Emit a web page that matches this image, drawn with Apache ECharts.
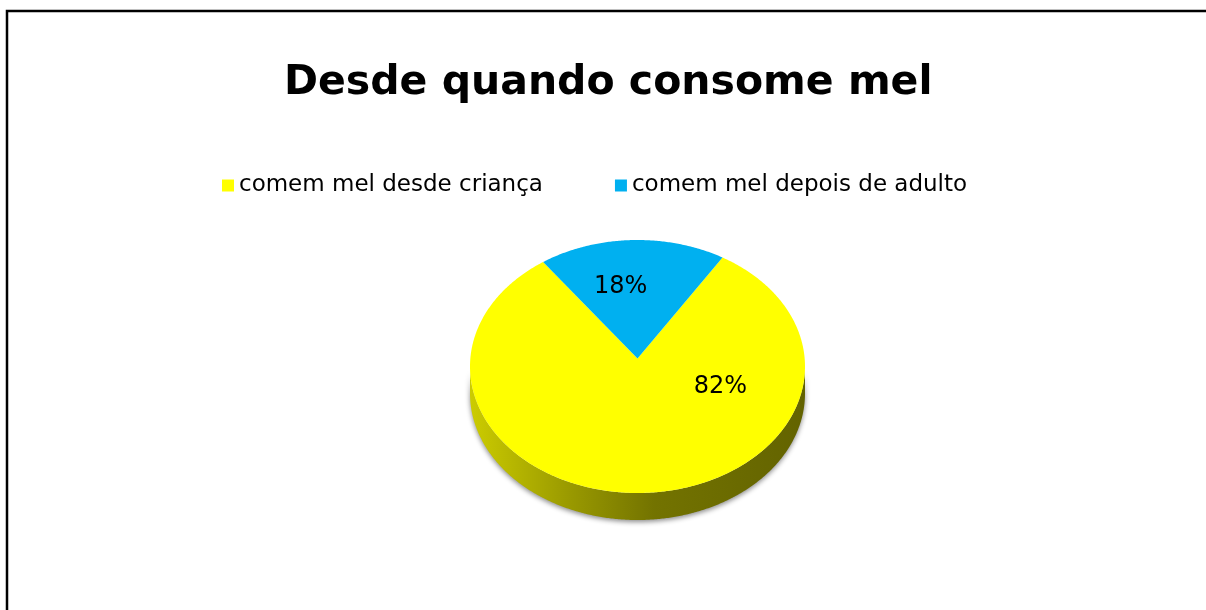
<!DOCTYPE html>
<html>
<head>
    <meta charset="UTF-8"/>
    <script src="https://cdn.jsdelivr.net/npm/echarts@6/dist/echarts.min.js"></script>
    <title>Desde quando consome mel</title>
    <style>
        body { margin: 0; background: #fff; }
        #main { width: 1206px; height: 610px; }
    </style>
</head>
<body>
<div id="main"></div>
<script type="text/javascript">
    // dados
    var categories = ['comem mel desde criança', 'comem mel depois de adulto'];
    var shares = [82, 18];
    var colors = ['#FFFF00', '#00B0F0'];

    // layout da "pizza 3D" (elipse)
    var CX = 637.5, CY = 366.5, RX = 167.5, RY = 126.5, DEPTH = 27, APEX_DY = -8;
    var firstSliceAngle = 30.5;
    // posicao dos rotulos: angulo (graus, horario a partir do topo) e fracao do raio
    var labelAngle = [108, -9];
    var labelRadius = [0.52, 0.64];

    var total = 0;
    for (var i = 0; i < shares.length; i++) total += shares[i];

    // escurece uma cor (f = fator de 0 a 1)
    function darken(color, f) {
        var c = echarts.color.parse(color);
        return 'rgb(' + Math.round(c[0] * f) + ',' + Math.round(c[1] * f) + ',' + Math.round(c[2] * f) + ')';
    }

    function ellipsePts(a0, a1, cy) {
        var pts = [];
        var n = Math.max(2, Math.ceil((a1 - a0) / 0.5));
        for (var i = 0; i <= n; i++) {
            var r = (a0 + (a1 - a0) * i / n) * Math.PI / 180;
            pts.push([CX + RX * Math.sin(r), cy - RY * Math.cos(r)]);
        }
        return pts;
    }

    function renderSlice(params, api) {
        var idx = params.seriesIndex;
        var before = 0;
        for (var i = 0; i < idx; i++) before += shares[i];
        var start = firstSliceAngle + 360 * before / total;
        var end = start + 360 * shares[idx] / total;
        var color = colors[idx];
        var children = [];

        // lateral (so a metade da frente aparece)
        var side = new echarts.graphic.LinearGradient(CX - RX, 0, CX + RX, 0, [
            {offset: 0, color: darken(color, 0.8)},
            {offset: 0.3, color: darken(color, 0.6)},
            {offset: 0.55, color: darken(color, 0.45)},
            {offset: 1, color: darken(color, 0.39)}
        ], true);
        for (var k = -360; k <= 360; k += 360) {
            var s = Math.max(start, 90 + k), e = Math.min(end, 270 + k);
            if (e > s) {
                var top = ellipsePts(s, e, CY);
                var bot = ellipsePts(s, e, CY + DEPTH).reverse();
                children.push({
                    type: 'polygon',
                    z2: 1,
                    shape: {points: top.concat(bot)},
                    style: {
                        fill: side,
                        shadowBlur: 5,
                        shadowColor: 'rgba(0,0,0,0.45)',
                        shadowOffsetY: 2
                    }
                });
            }
        }

        // topo
        children.push({
            type: 'polygon',
            z2: 10,
            shape: {points: [[CX, CY + APEX_DY]].concat(ellipsePts(start, end, CY))},
            style: {fill: color}
        });

        // rotulo
        var la = labelAngle[idx] * Math.PI / 180;
        children.push({
            type: 'text',
            z2: 20,
            x: CX + RX * labelRadius[idx] * Math.sin(la),
            y: CY - RY * labelRadius[idx] * Math.cos(la),
            style: {
                text: Math.round(api.value(0) / total * 100) + '%',
                fontFamily: 'DejaVu Sans',
                fontSize: 24,
                fill: '#000',
                align: 'center',
                verticalAlign: 'middle'
            }
        });

        return {type: 'group', children: children};
    }

    var series = [];
    for (var j = 0; j < categories.length; j++) {
        series.push({
            name: categories[j],
            type: 'custom',
            coordinateSystem: 'none',
            itemStyle: {color: colors[j]},
            renderItem: renderSlice,
            data: [[shares[j]]]
        });
    }

    var option = {
        animation: false,
        backgroundColor: '#fff',
        title: {
            text: 'Desde quando consome mel',
            left: 279,
            top: 58,
            textStyle: {
                fontFamily: 'DejaVu Sans',
                fontWeight: 'bold',
                fontSize: 41,
                color: '#000'
            }
        },
        legend: {
            left: 217,
            top: 169,
            icon: 'rect',
            itemWidth: 12,
            itemHeight: 12,
            itemGap: 72,
            textStyle: {
                fontFamily: 'DejaVu Sans',
                fontSize: 23,
                color: '#000'
            },
            data: categories
        },
        graphic: [{
            type: 'rect',
            silent: true,
            shape: {x: 7, y: 11, width: 1260, height: 700},
            style: {fill: 'none', stroke: '#000', lineWidth: 2.5}
        }],
        series: series
    };

    var myChart = echarts.init(document.getElementById('main'));
    myChart.setOption(option);
</script>
</body>
</html>
